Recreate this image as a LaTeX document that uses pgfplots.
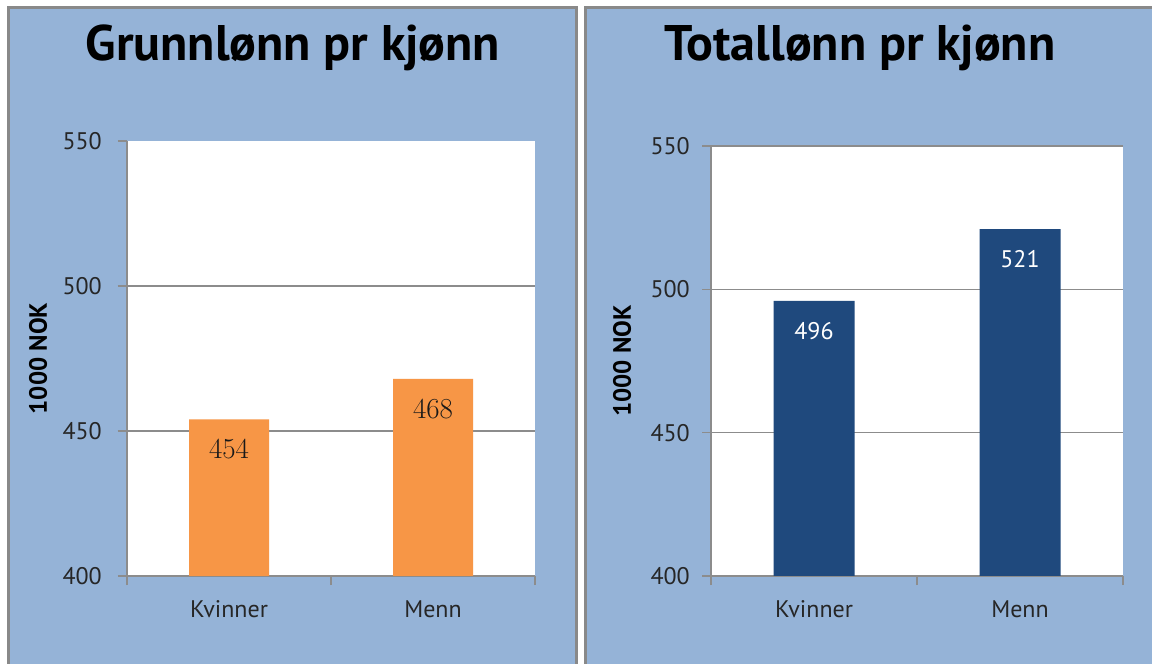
\documentclass[border=0pt]{standalone}
\usepackage{pgfplots}
\pgfplotsset{compat=1.18}
\usepackage{fontspec}
\setsansfont{PT Sans}
\definecolor{bg}{HTML}{95B3D7}
\definecolor{frame}{HTML}{898989}
\definecolor{barorange}{HTML}{F79646}
\definecolor{barblue}{HTML}{1F497D}
\definecolor{gridgray}{HTML}{8C8C8C}
\pgfplotsset{
  panel/.style={
    scale only axis,
    /pgf/number format/assume math mode=true,
    ymin=400, ymax=550,
    xmin=-0.5, xmax=1.5,
    axis lines=left,
    axis line style={-, draw=gridgray, line width=1.3pt},
    axis background/.style={fill=white},
    ytick={400,450,500,550},
    xtick={-0.5,0.5,1.5},
    xticklabels={},
    extra x ticks={0,1},
    extra x tick labels={Kvinner,Menn},
    extra x tick style={major tick length=0pt, grid=none,
      xticklabel style={font=\sffamily\fontsize{24}{26}\selectfont, text=black!85, anchor=base, yshift=-42pt}},
    tick style={draw=gridgray, line width=1.2pt},
    major tick length=9pt,
    tick align=outside,
    ylabel={1000 NOK},
    ylabel style={font=\sffamily\bfseries\fontsize{25}{28}\selectfont, anchor=center},
    clip=false,
  }
}
\begin{document}
\begin{tikzpicture}[x=1pt,y=1pt]
\useasboundingbox (0,0) rectangle (1152,664);
\begin{scope}
\clip (0,0) rectangle (1152,664);
\draw[line width=3pt, draw=frame, fill=bg] (8,-20) rectangle (576,656);
\draw[line width=3pt, draw=frame, fill=bg] (585,-20) rectangle (1175,656);
\end{scope}
\node[font=\sffamily\bfseries\fontsize{50}{54}\selectfont] at (293,616) {Grunnlønn pr kjønn};
\node[font=\sffamily\bfseries\fontsize{50}{54}\selectfont] at (860,616) {Totallønn pr kjønn};

\begin{axis}[panel, at={(127pt,88pt)}, anchor=south west, width=408pt, height=435pt,
  yticklabel style={font=\sffamily\fontsize{24}{26}\selectfont, text=black!85, inner sep=0pt, xshift=-16pt},
  extra y ticks={450,500}, extra y tick labels={},
  extra y tick style={ymajorgrids=true, major grid style={draw=gridgray, line width=1.2pt}},
  ylabel style={at={(axis description cs:-0.218,0.5)}},
  ]
  \addplot[ybar, bar width=80pt, fill=barorange, draw=none,
    nodes near coords,
    nodes near coords style={font=\rmfamily\fontsize{29}{30}\selectfont, text=black!90, anchor=center, yshift=-30pt}]
    coordinates {(0,454) (1,468)};
\end{axis}

\begin{axis}[panel, at={(711pt,88pt)}, anchor=south west, width=412pt, height=430pt,
  yticklabel style={font=\sffamily\fontsize{24}{26}\selectfont, text=black!85, inner sep=0pt, xshift=-12pt},
  ymajorgrids=true, major grid style={draw=gridgray, line width=1.2pt},
  ylabel style={at={(axis description cs:-0.216,0.5)}},
  ]
  \addplot[ybar, bar width=81pt, fill=barblue, draw=none,
    nodes near coords,
    nodes near coords style={font=\sffamily\fontsize{24}{26}\selectfont, text=white, anchor=center, yshift=-30pt}]
    coordinates {(0,496) (1,521)};
\end{axis}
\end{tikzpicture}
\end{document}
